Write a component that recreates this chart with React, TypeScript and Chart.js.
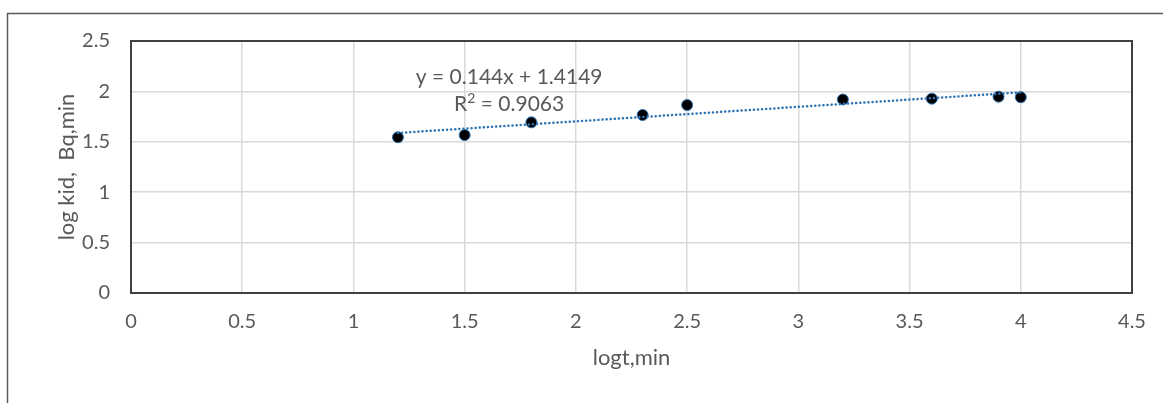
import React, { useEffect, useRef } from "react";
import { Chart, registerables } from "chart.js";

Chart.register(...registerables);

// Data
const logT: number[] = [1.2, 1.5, 1.8, 2.3, 2.5, 3.2, 3.6, 3.9, 4.0];
const logKid: number[] = [1.545, 1.567, 1.693, 1.766, 1.865, 1.92, 1.928, 1.948, 1.942];

// Trendline (Excel linear fit shown on the chart)
const trendSlope = 0.144;
const trendIntercept = 1.4149;
const trendLabel = "y = 0.144x + 1.4149";
const r2Parts: string[] = ["R", "2", " = 0.9063"];
// Label anchor (in data units)
const labelAnchorX = 1.7;
const labelAnchorY: number[] = [2.14, 1.87];

const xTitle = "logt,min";
const yTitle = "log kid,  Bq,min";

const FONT = "Lato, 'Open Sans', sans-serif";
const TEXT = "#595959";

const fmt = (v: any) => String(Number(v));

export default function App() {
  const ref = useRef<HTMLCanvasElement | null>(null);

  useEffect(() => {
    if (!ref.current) return;
    const xmin = Math.min(...logT);
    const xmax = Math.max(...logT);
    const trend = [xmin, xmax].map((x) => ({ x, y: trendSlope * x + trendIntercept }));

    const decor = {
      id: "decor",
      beforeDraw(chart: any) {
        const ctx = chart.ctx;
        ctx.save();
        ctx.fillStyle = "#ffffff";
        ctx.fillRect(0, 0, chart.width, chart.height);
        // outer frame
        ctx.strokeStyle = "#595959";
        ctx.lineWidth = 1.5;
        ctx.beginPath();
        ctx.moveTo(chart.width + 5, 13.5);
        ctx.lineTo(7.5, 13.5);
        ctx.lineTo(7.5, chart.height + 5);
        ctx.stroke();
        ctx.restore();
      },
      afterDatasetsDraw(chart: any) {
        const ctx = chart.ctx;
        const { left, top, right, bottom } = chart.chartArea;
        ctx.save();
        ctx.strokeStyle = "#404040";
        ctx.lineWidth = 2;
        ctx.strokeRect(left, top, right - left, bottom - top);
        const xs = chart.scales.x;
        const ys = chart.scales.y;
        const cx = xs.getPixelForValue(labelAnchorX);
        ctx.fillStyle = TEXT;
        ctx.font = `21px ${FONT}`;
        ctx.textAlign = "center";
        ctx.textBaseline = "middle";
        ctx.fillText(trendLabel, cx, ys.getPixelForValue(labelAnchorY[0]));
        // R² line with a real superscript
        const y2 = ys.getPixelForValue(labelAnchorY[1]);
        ctx.font = `21px ${FONT}`;
        const wR = ctx.measureText(r2Parts[0]).width;
        const wRest = ctx.measureText(r2Parts[2]).width;
        ctx.font = `14px ${FONT}`;
        const wSup = ctx.measureText(r2Parts[1]).width;
        const total = wR + wSup + wRest;
        let x = cx - total / 2;
        ctx.textAlign = "left";
        ctx.font = `21px ${FONT}`;
        ctx.fillText(r2Parts[0], x, y2);
        x += wR;
        ctx.font = `14px ${FONT}`;
        ctx.fillText(r2Parts[1], x, y2 - 6);
        x += wSup;
        ctx.font = `21px ${FONT}`;
        ctx.fillText(r2Parts[2], x, y2);
        ctx.restore();
      },
    };

    const chart = new Chart(ref.current, {
      type: "scatter",
      data: {
        datasets: [
          {
            label: "trend",
            data: trend,
            showLine: true,
            borderColor: "#2E75B6",
            borderWidth: 2.5,
            borderDash: [0.1, 4],
            borderCapStyle: "round",
            pointRadius: 0,
            fill: false,
          } as any,
          {
            label: "data",
            data: logT.map((x, i) => ({ x, y: logKid[i] })),
            backgroundColor: "#000000",
            borderColor: "#2E75B6",
            borderWidth: 1,
            pointRadius: 5.5,
            showLine: false,
          },
        ],
      },
      options: {
        animation: false,
        responsive: false,
        layout: { padding: { top: 41, right: 31, left: 0, bottom: 0 } },
        plugins: { legend: { display: false }, tooltip: { enabled: false } },
        scales: {
          x: {
            type: "linear",
            min: 0,
            max: 4.5,
            ticks: { stepSize: 0.5, color: TEXT, font: { family: FONT, size: 20 }, padding: 17, maxRotation: 0, callback: fmt },
            grid: { color: "#d9d9d9", lineWidth: 1.5, drawTicks: false },
            border: { display: false },
            title: { display: true, text: xTitle, color: TEXT, font: { family: FONT, size: 22 }, padding: { top: 0, bottom: 32 } },
            afterFit: (s: any) => {
              s.height = 110;
              s.paddingLeft = 0;
              s.paddingRight = 0;
            },
          },
          y: {
            type: "linear",
            min: 0,
            max: 2.5,
            ticks: { stepSize: 0.5, color: TEXT, font: { family: FONT, size: 20 }, padding: 21, callback: fmt },
            grid: { color: "#d9d9d9", lineWidth: 1.5, drawTicks: false },
            border: { display: false },
            title: { display: true, text: yTitle, color: TEXT, font: { family: FONT, size: 22 }, padding: { top: 54, bottom: 0 } },
            afterFit: (s: any) => {
              s.width = 131;
              s.paddingTop = 0;
              s.paddingBottom = 0;
            },
          },
        },
      },
      plugins: [decor],
    });
    return () => chart.destroy();
  }, []);

  return (
    <div style={{ position: "fixed", left: 0, top: 0, width: 1163, height: 403 }}>
      <canvas ref={ref} width={1163} height={403} style={{ display: "block", width: 1163, height: 403 }} />
    </div>
  );
}
